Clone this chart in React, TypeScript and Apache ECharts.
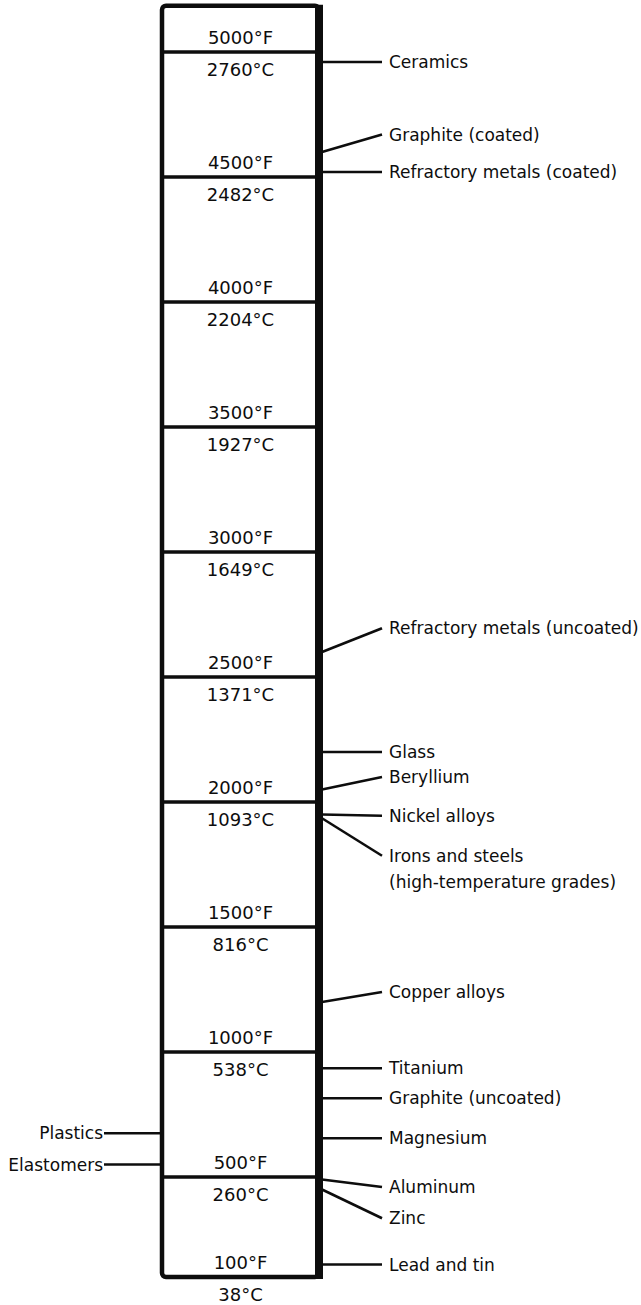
import React, { useEffect, useRef } from "react";
import * as echarts from "echarts";

// Column scale (°F) and the matching °C values at each division
const bandF = [5000, 4500, 4000, 3500, 3000, 2500, 2000, 1500, 1000, 500, 100];
const bandC = [2760, 2482, 2204, 1927, 1649, 1371, 1093, 816, 538, 260, 38];
const columnTopF = 5185;
const columnBottomF = 100;

// Materials on the right: attach point on the column and label position (°F)
const rightNames = [
  "Ceramics",
  "Graphite (coated)",
  "Refractory metals (coated)",
  "Refractory metals (uncoated)",
  "Glass",
  "Beryllium",
  "Nickel alloys",
  "Irons and steels\n(high-temperature grades)",
  "Copper alloys",
  "Titanium",
  "Graphite (uncoated)",
  "Magnesium",
  "Aluminum",
  "Zinc",
  "Lead and tin",
];
const rightAttachF = [4960, 4600, 4520, 2600, 2200, 2050, 1950, 1935, 1200, 935, 815, 655, 490, 450, 150];
const rightLabelF = [4960, 4670, 4520, 2695, 2200, 2100, 1945, 1785, 1240, 935, 815, 655, 460, 335, 150];

// Materials on the left
const leftNames = ["Plastics", "Elastomers"];
const leftF = [675, 550];

const INK = "#0d0d0d";
const FONT = "DejaVu Sans";
const BOX_L = 162;
const BOX_R = 319;
const BOX_MID = (BOX_L + BOX_R) / 2;

export default function App() {
  const ref = useRef<HTMLDivElement>(null);

  useEffect(() => {
    if (!ref.current) return;
    const chart = echarts.init(ref.current, null, { renderer: "svg" });

    const yOf = (api: any, f: number) => api.coord([0, f])[1];

    const option: any = {
      animation: false,
      backgroundColor: "#ffffff",
      grid: { left: 0, right: 0, top: 2, bottom: 3 },
      xAxis: { type: "value", min: 0, max: 1, show: false },
      yAxis: { type: "value", min: 0, max: 5200, show: false },
      series: [
        {
          type: "custom",
          clip: false,
          silent: true,
          data: [[0, columnBottomF, columnTopF]],
          renderItem: (params: any, api: any) => {
            const yb = yOf(api, api.value(1));
            const yt = yOf(api, api.value(2));
            return {
              type: "group",
              children: [
                {
                  type: "rect",
                  shape: { x: BOX_L, y: yt, width: BOX_R - BOX_L, height: yb - yt, r: 4 },
                  style: { fill: "none", stroke: INK, lineWidth: 4.5 },
                },
                {
                  type: "line",
                  shape: { x1: BOX_R, y1: yt - 1, x2: BOX_R, y2: yb + 2 },
                  style: { stroke: INK, lineWidth: 8 },
                },
              ],
            };
          },
        },
        {
          type: "custom",
          clip: false,
          silent: true,
          data: bandF.map((f, i) => [0, f, bandC[i]]),
          renderItem: (params: any, api: any) => {
            const f = api.value(1);
            const c = api.value(2);
            const y = yOf(api, f);
            const children: any[] = [];
            if (f !== columnBottomF) {
              children.push({
                type: "line",
                shape: { x1: BOX_L, y1: y, x2: BOX_R, y2: y },
                style: { stroke: INK, lineWidth: 3.5 },
              });
            }
            children.push({
              type: "text",
              x: BOX_MID,
              y: y - 15,
              style: {
                text: `${f}°F`,
                fontFamily: FONT,
                fontSize: 18,
                fill: INK,
                align: "center",
                verticalAlign: "middle",
              },
            });
            children.push({
              type: "text",
              x: BOX_MID,
              y: y + 17,
              style: {
                text: `${c}°C`,
                fontFamily: FONT,
                fontSize: 18,
                fill: INK,
                align: "center",
                verticalAlign: "middle",
              },
            });
            return { type: "group", children };
          },
        },
        {
          type: "custom",
          clip: false,
          silent: true,
          data: rightNames.map((n, i) => [0, rightAttachF[i], rightLabelF[i]]),
          renderItem: (params: any, api: any) => {
            const y1 = yOf(api, api.value(1));
            const y2 = yOf(api, api.value(2));
            return {
              type: "group",
              children: [
                {
                  type: "line",
                  shape: { x1: BOX_R + 3, y1, x2: 382, y2 },
                  style: { stroke: INK, lineWidth: 2.6 },
                },
                {
                  type: "text",
                  x: 389,
                  y: y2 - 13,
                  style: {
                    text: rightNames[params.dataIndex],
                    fontFamily: FONT,
                    fontSize: 17,
                    lineHeight: 26,
                    fill: INK,
                    align: "left",
                    verticalAlign: "top",
                  },
                },
              ],
            };
          },
        },
        {
          type: "custom",
          clip: false,
          silent: true,
          data: leftNames.map((n, i) => [0, leftF[i]]),
          renderItem: (params: any, api: any) => {
            const y = yOf(api, api.value(1));
            return {
              type: "group",
              children: [
                {
                  type: "line",
                  shape: { x1: 104, y1: y, x2: BOX_L - 1, y2: y },
                  style: { stroke: INK, lineWidth: 2.6 },
                },
                {
                  type: "text",
                  x: 103,
                  y,
                  style: {
                    text: leftNames[params.dataIndex],
                    fontFamily: FONT,
                    fontSize: 17,
                    fill: INK,
                    align: "right",
                    verticalAlign: "middle",
                  },
                },
              ],
            };
          },
        },
      ],
    };

    chart.setOption(option);
    return () => chart.dispose();
  }, []);

  return (
    <div
      ref={ref}
      style={{ position: "fixed", left: 0, top: 0, width: 641, height: 1305, background: "#fff" }}
    />
  );
}
